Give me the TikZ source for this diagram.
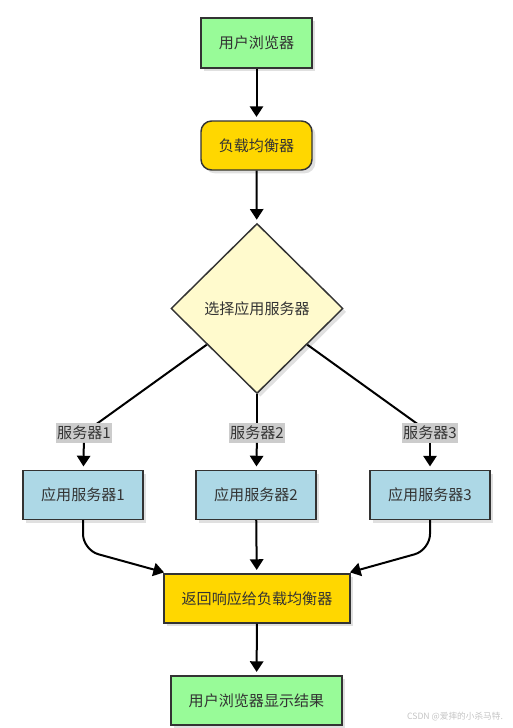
\documentclass[tikz,border=0pt]{standalone}
\usepackage{fontspec}
\setmainfont{Noto Sans CJK SC}
\usetikzlibrary{shapes.geometric, arrows.meta, shadows, backgrounds}
\definecolor{boxgreen}{HTML}{98FB98}
\definecolor{boxgold}{HTML}{FFD700}
\definecolor{boxlemon}{HTML}{FFFACD}
\definecolor{boxblue}{HTML}{ADD8E6}
\definecolor{taggray}{HTML}{CCCCCC}
\definecolor{edgegray}{HTML}{333333}
\definecolor{markgray}{HTML}{C4C4C4}
\tikzset{
    basebox/.style={draw=edgegray, line width=1.1pt, text=edgegray, inner sep=0pt,
        font=\fontsize{11.3}{13}\selectfont,
        drop shadow={shadow xshift=2.5pt, shadow yshift=-2.5pt, opacity=0.12, fill=black}},
    greenbox/.style={basebox, fill=boxgreen, minimum height=37.5pt},
    goldround/.style={basebox, fill=boxgold, rounded corners=8pt, minimum width=83.25pt, minimum height=36.75pt},
    goldbox/.style={basebox, fill=boxgold, minimum width=139.5pt, minimum height=36.75pt},
    decision/.style={basebox, diamond, aspect=1, fill=boxlemon, minimum width=129pt, minimum height=127.5pt},
    srvnode/.style={basebox, fill=boxblue, minimum width=90pt, minimum height=36.75pt},
    tagbox/.style={fill=taggray, text=edgegray, inner xsep=1pt, inner ysep=2pt, font=\fontsize{11.3}{13}\selectfont},
    plainline/.style={draw=black, line width=1.5pt},
    arrowline/.style={plainline, -{Triangle[width=10pt,length=8pt]}, shorten >=2.5pt}
}
\newcommand{\srvbox}[3]{
    \node[srvnode] (#1) at (#2, 495) {#3};
}

\begin{document}
\begin{tikzpicture}[x=0.75pt, y=-0.75pt]
    \useasboundingbox (0,0) rectangle (512,728);

    \node[greenbox, minimum width=83.25pt] (browser) at (256.5, 43) {用户浏览器};
    \node[goldround] (balancer) at (256.5, 145.5) {负载均衡器};
    \node[decision] (choose) at (257, 308.5) {选择应用服务器};

    \node[tagbox] (tag1) at (84, 433) {服务器1};
    \node[tagbox] (tag2) at (257, 433) {服务器2};
    \node[tagbox] (tag3) at (430, 433) {服务器3};

    \srvbox{srv1}{83}{应用服务器1}
    \srvbox{srv2}{256}{应用服务器2}
    \srvbox{srv3}{430}{应用服务器3}

    \node[goldbox] (reply) at (257, 598.5) {返回响应给负载均衡器};
    \node[greenbox, minimum width=128.25pt, minimum height=36.75pt] (result) at (256.5, 700.5) {用户浏览器显示结果};

    \node[text=markgray, font=\fontsize{6.5}{7}\selectfont, inner sep=0pt] (mark) at (455, 717) {CSDN @爱摔的小杀马特.};

    % main flow
    \draw[arrowline] (browser) -- (balancer);
    \draw[arrowline] (balancer) -- (choose);

    % branches, under the tags
    \begin{scope}[on background layer]
        \draw[plainline] (choose) -- (tag1.center);
        \draw[plainline] (choose) -- (tag2.center);
        \draw[plainline] (choose) -- (tag3.center);
    \end{scope}
    \draw[arrowline] (tag1) -- (srv1);
    \draw[arrowline] (tag2) -- (srv2);
    \draw[arrowline] (tag3) -- (srv3);

    % back to the balancer
    \draw[arrowline, rounded corners=12pt] (srv1.south) -- (83, 550) -- ([xshift=3pt]reply.north west);
    \draw[arrowline] (srv2) -- (reply);
    \draw[arrowline, rounded corners=12pt] (srv3.south) -- (430, 550) -- ([xshift=-3pt]reply.north east);
    \draw[arrowline] (reply) -- (result);
\end{tikzpicture}
\end{document}
